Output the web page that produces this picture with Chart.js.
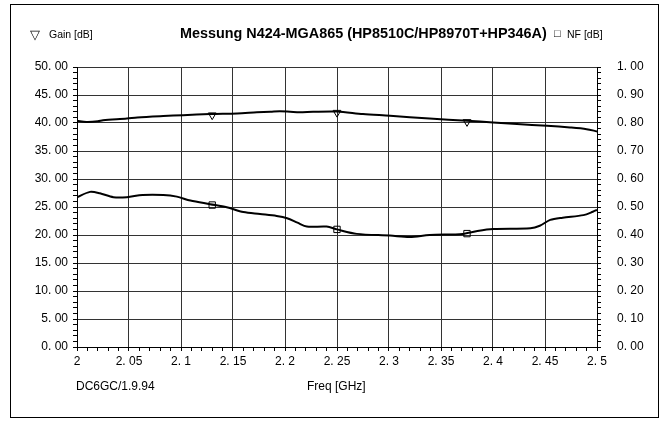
<!DOCTYPE html>
<html>
<head>
<meta charset="utf-8">
<script src="https://cdn.jsdelivr.net/npm/chart.js@4/dist/chart.umd.min.js"></script>
<style>
  body { margin: 0; background: #fff; }
  #wrap { position: relative; width: 665px; height: 421px; }
  #chart { position: absolute; left: 0; top: 0; }
  #frame { position: absolute; left: 10px; top: 4px; width: 647px; height: 412px; border: 1.5px solid #000; }
  .t { position: absolute; white-space: nowrap; color: #000; font-family: "Liberation Sans", Arial, sans-serif; line-height: 1; }
  .narrow { font-family: "Liberation Sans Narrow", "Liberation Sans", Arial, sans-serif; }
</style>
</head>
<body>
<div id="wrap">
  <div id="frame"></div>
  <canvas id="chart" width="665" height="421"></canvas>
  <div class="t" style="left:30px;top:28px;font-size:13px;">&#9661;</div>
  <div class="t narrow" style="left:49px;top:29px;font-size:10.5px;">Gain [dB]</div>
  <div class="t" style="left:180px;top:26px;font-size:14.4px;font-weight:bold;">Messung N424-MGA865 (HP8510C/HP8970T+HP346A)</div>
  <div class="t" style="left:554px;top:28px;font-size:11px;">&#9633;</div>
  <div class="t narrow" style="left:567px;top:29px;font-size:10.5px;">NF [dB]</div>
  <div class="t" style="left:76px;top:380px;font-size:12px;">DC6GC/1.9.94</div>
  <div class="t" style="left:307px;top:380px;font-size:12px;">Freq [GHz]</div>
</div>
<script>
// Gain [dB], left axis
const gainFreq = [2.000, 2.009, 2.020, 2.025, 2.048, 2.058, 2.083, 2.102, 2.128, 2.154, 2.173, 2.186, 2.195,
  2.205, 2.214, 2.227, 2.250, 2.275, 2.301, 2.339, 2.375, 2.400, 2.423, 2.452, 2.474, 2.490, 2.500];
const gainVals = [40.4, 40.2, 40.3, 40.5, 40.8, 41.0, 41.25, 41.4, 41.6, 41.7, 41.9, 42.0, 42.1,
  42.0, 41.9, 42.0, 42.05, 41.6, 41.3, 40.8, 40.4, 40.1, 39.8, 39.5, 39.2, 38.9, 38.5];

// NF [dB], right axis
const nfFreq = [2.000, 2.0125, 2.022, 2.035, 2.048, 2.063, 2.083, 2.096, 2.109, 2.128, 2.144, 2.160, 2.176,
  2.192, 2.202, 2.212, 2.221, 2.240, 2.250, 2.269, 2.301, 2.320, 2.339, 2.371, 2.385, 2.400, 2.436, 2.445,
  2.455, 2.467, 2.487, 2.496, 2.500];
const nfVals = [0.535, 0.554, 0.549, 0.535, 0.535, 0.543, 0.543, 0.537, 0.523, 0.510, 0.499, 0.482, 0.475,
  0.468, 0.460, 0.444, 0.430, 0.430, 0.420, 0.404, 0.398, 0.393, 0.400, 0.404, 0.414, 0.421, 0.424, 0.433,
  0.454, 0.462, 0.471, 0.483, 0.490];

// marker symbols
const markerFreq = [2.13, 2.25, 2.375];
const gainMarkerVals = [41.4, 41.85, 40.2];
const nfMarkerVals = [0.507, 0.42, 0.405];

const xTickLabels = ['2', '2. 05', '2. 1', '2. 15', '2. 2', '2. 25', '2. 3', '2. 35', '2. 4', '2. 45', '2. 5'];
const yTickLabels = ['0. 00', '5. 00', '10. 00', '15. 00', '20. 00', '25. 00', '30. 00', '35. 00', '40. 00', '45. 00', '50. 00'];
const y2TickLabels = ['0. 00', '0. 10', '0. 20', '0. 30', '0. 40', '0. 50', '0. 60', '0. 70', '0. 80', '0. 90', '1. 00'];

const toPoints = (xs, ys) => xs.map((x, i) => ({ x: x, y: ys[i] }));

const tickFont = { family: '"Liberation Sans Narrow", "Liberation Sans", Arial, sans-serif', size: 12 };
const gridCol = '#333';

new Chart(document.getElementById('chart'), {
  type: 'scatter',
  data: {
    datasets: [
      { data: toPoints(gainFreq, gainVals), yAxisID: 'y', showLine: true, borderColor: '#000', borderWidth: 2,
        pointRadius: 0, tension: 0.3 },
      { data: toPoints(nfFreq, nfVals), yAxisID: 'y2', showLine: true, borderColor: '#000', borderWidth: 2,
        pointRadius: 0, tension: 0.3 },
      { data: toPoints(markerFreq, gainMarkerVals), yAxisID: 'y', pointStyle: 'triangle', rotation: 180,
        pointRadius: 4.5, borderColor: '#000', borderWidth: 1, backgroundColor: 'rgba(0,0,0,0)' },
      { data: toPoints(markerFreq, nfMarkerVals), yAxisID: 'y2', pointStyle: 'rect',
        pointRadius: 4.5, borderColor: '#000', borderWidth: 1, backgroundColor: 'rgba(0,0,0,0)' },
    ],
  },
  options: {
    responsive: false,
    devicePixelRatio: 1,
    animation: false,
    layout: { padding: { top: 67, left: 0, right: 0, bottom: 0 } },
    plugins: { legend: { display: false }, tooltip: { enabled: false } },
    scales: {
      x: {
        type: 'linear', min: 2, max: 2.5,
        border: { color: '#000', width: 1 },
        grid: {
          color: (c) => (Math.round((c.tick.value - 2) * 100) % 5 === 0 ? gridCol : 'rgba(0,0,0,0)'),
          tickColor: '#000', tickLength: 4,
        },
        ticks: {
          stepSize: 0.01, autoSkip: false, maxRotation: 0, color: '#000', font: tickFont, padding: 3,
          callback: (v) => {
            const i = Math.round((v - 2) * 100);
            return i % 5 === 0 ? xTickLabels[i / 5] : '';
          },
        },
        afterFit: (s) => { s.height = 74; },
      },
      y: {
        position: 'left', min: 0, max: 50,
        border: { color: '#000', width: 1 },
        grid: {
          color: (c) => (Math.round(c.tick.value) % 5 === 0 ? gridCol : 'rgba(0,0,0,0)'),
          tickColor: '#000', tickLength: 4,
        },
        ticks: {
          stepSize: 1, autoSkip: false, color: '#000', font: tickFont, padding: 5,
          callback: (v) => (Math.round(v) % 5 === 0 ? yTickLabels[Math.round(v) / 5] : ''),
        },
        afterFit: (s) => { s.width = 77; },
      },
      y2: {
        position: 'right', min: 0, max: 1,
        border: { color: '#000', width: 1 },
        grid: { drawOnChartArea: false, tickColor: '#000', tickLength: 4 },
        ticks: {
          stepSize: 0.02, autoSkip: false, color: '#000', font: tickFont, padding: 16,
          callback: (v) => {
            const i = Math.round(v * 50);
            return i % 5 === 0 ? y2TickLabels[i / 5] : '';
          },
        },
        afterFit: (s) => { s.width = 68; },
      },
    },
  },
});
</script>
</body>
</html>
